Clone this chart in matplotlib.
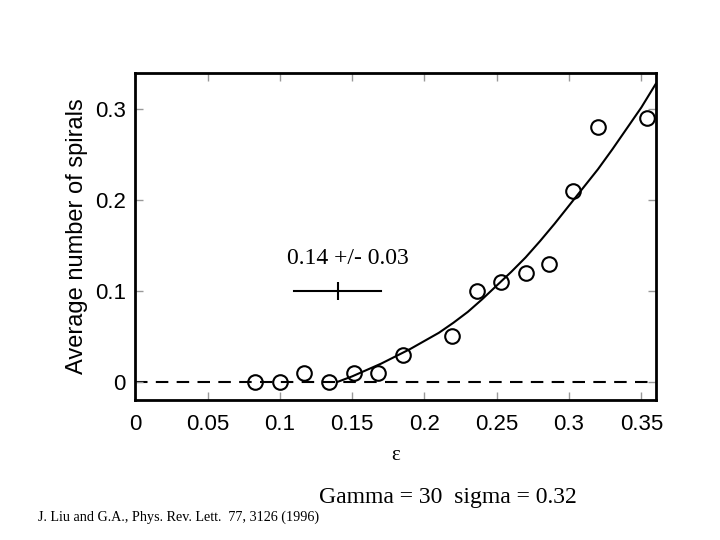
import matplotlib
matplotlib.use("Agg")
import matplotlib.pyplot as plt

# data points (open circles)
eps_pts = [0.083, 0.100, 0.117, 0.134, 0.151, 0.168, 0.185, 0.219, 0.236,
           0.253, 0.270, 0.286, 0.303, 0.320, 0.354]
spirals = [0.00, 0.00, 0.01, 0.00, 0.01, 0.01, 0.03, 0.05, 0.10,
           0.11, 0.12, 0.13, 0.21, 0.28, 0.29]

# fitted curve
curve_x = [0.140, 0.150, 0.160, 0.170, 0.180, 0.190, 0.200, 0.210, 0.220,
           0.230, 0.240, 0.250, 0.260, 0.270, 0.280, 0.290, 0.300, 0.310,
           0.320, 0.330, 0.340, 0.350, 0.360]
curve_y = [0.000, 0.006, 0.013, 0.020, 0.028, 0.036, 0.045, 0.054, 0.065,
           0.077, 0.091, 0.106, 0.121, 0.137, 0.155, 0.174, 0.194, 0.214,
           0.234, 0.256, 0.279, 0.302, 0.328]

# threshold estimate
eps_c = 0.14
eps_c_err = 0.03
marker_y = 0.1

xticks = [0, 0.05, 0.1, 0.15, 0.2, 0.25, 0.3, 0.35]
xtick_labels = ["0", "0.05", "0.1", "0.15", "0.2", "0.25", "0.3", "0.35"]
yticks = [0, 0.1, 0.2, 0.3]
ytick_labels = ["0", "0.1", "0.2", "0.3"]

fig = plt.figure(figsize=(7.2, 5.4), dpi=100)
ax = fig.add_axes([0.188, 0.2593, 0.7228, 0.6056])

ax.axhline(0, color="black", lw=1.5, ls=(0, (6, 4)), zorder=1)
ax.plot(curve_x, curve_y, color="black", lw=1.5, zorder=2)
ax.plot(eps_pts, spirals, ls="none", marker="o", ms=10.5, mfc="none",
        mec="black", mew=1.5, zorder=3)

# error bar indicator
ax.plot([eps_c - eps_c_err, eps_c + eps_c_err], [marker_y, marker_y],
        color="black", lw=1.5)
ax.plot([eps_c], [marker_y], marker="|", ms=13, mew=1.5, color="black")
ax.text(0.147, 0.136, "0.14 +/- 0.03", ha="center", va="center",
        family="Liberation Serif", fontsize=17)

ax.set_xlim(0, 0.36)
ax.set_ylim(-0.02, 0.34)
ax.set_xticks(xticks)
ax.set_xticklabels(xtick_labels)
ax.set_yticks(yticks)
ax.set_yticklabels(ytick_labels)
ax.tick_params(direction="in", length=6, width=1, color="#999999",
               top=True, right=True, labelsize=16)
ax.tick_params(axis="x", pad=10)
ax.tick_params(axis="y", pad=7)
for lab in ax.get_xticklabels() + ax.get_yticklabels():
    lab.set_family("Liberation Sans")
for s in ax.spines.values():
    s.set_linewidth(2)

ax.set_ylabel("Average number of spirals", family="Liberation Sans",
              fontsize=17, labelpad=5)
ax.set_xlabel("ε", family="Liberation Serif", fontsize=15, labelpad=8)

fig.text(448 / 720, 1 - 497 / 540, "Gamma = 30  sigma = 0.32",
         ha="center", va="center", family="Liberation Serif", fontsize=17)
fig.text(38 / 720, 1 - 517 / 540,
         "J. Liu and G.A., Phys. Rev. Lett.  77, 3126 (1996)",
         ha="left", va="center", family="Liberation Serif", fontsize=10.2)

fig.savefig("out.png", dpi=100)
